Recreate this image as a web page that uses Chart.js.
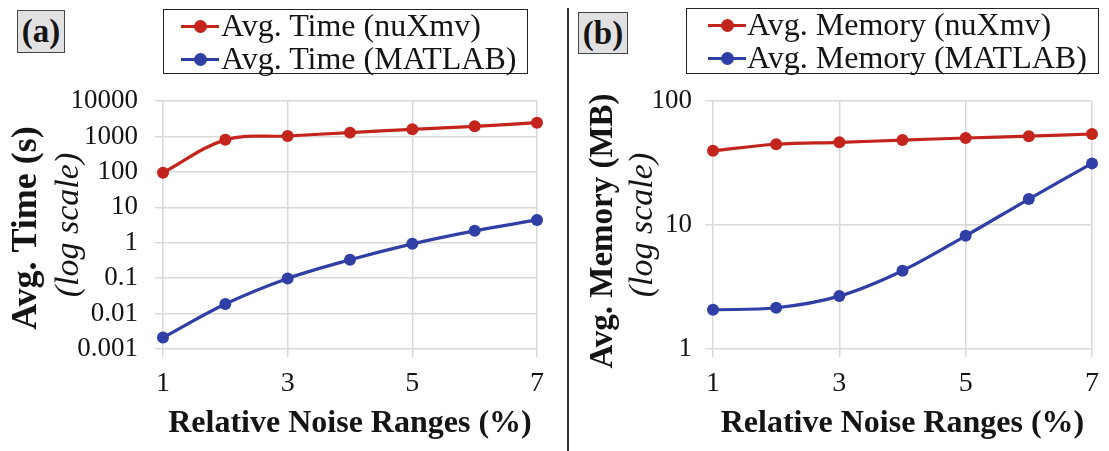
<!DOCTYPE html>
<html>
<head>
<meta charset="utf-8">
<script src="https://cdn.jsdelivr.net/npm/chart.js@4"></script>
<style>
  body { margin: 0; background: #fff; font-family: "Liberation Serif", "DejaVu Serif", serif; color: #141414; }
  #page { position: relative; width: 1109px; height: 451px; overflow: hidden; }
  .panel { position: absolute; top: 0; }
  .tag { position: absolute; background: #e1e1e1; border: 1.5px solid #444; font-weight: bold; font-size: 33px;
         text-align: center; box-sizing: border-box; line-height: 40px; }
  .legend { position: absolute; border: 1.5px solid #222; box-sizing: border-box; font-size: 32px; background: #fff; }
  .legend .row { position: relative; height: 33px; line-height: 33px; white-space: nowrap; }
  .legend .mark { position: absolute; top: 15px; height: 3px; width: 38px; }
  .legend .dot { position: absolute; left: 13px; top: -5px; width: 13px; height: 13px; border-radius: 50%; }
  .legend .txt { position: absolute; top: -1px; }
  #sep { position: absolute; left: 567px; top: 8px; width: 2px; height: 443px; background: #333; }
</style>
</head>
<body>
<div id="page">
  <div class="panel" style="left:0;width:566px;height:451px"><canvas id="chartA" width="566" height="451"></canvas></div>
  <div class="panel" style="left:570px;width:539px;height:451px"><canvas id="chartB" width="539" height="451"></canvas></div>
  <div id="sep"></div>
  <div class="tag" style="left:17px;top:10px;width:48px;height:43px">(a)</div>
  <div class="tag" style="left:578px;top:12px;width:50px;height:42px">(b)</div>
  <div class="legend" id="legendA" style="left:163px;top:9px;width:365px;height:65px"></div>
  <div class="legend" id="legendB" style="left:686px;top:8px;width:413px;height:66px"></div>
</div>
<script>
// DATA
const noiseRanges = [1, 2, 3, 4, 5, 6, 7];
const timeNuxmv = [95, 800, 1030, 1280, 1590, 1930, 2440];
const timeMatlab = [0.0021, 0.0186, 0.098, 0.33, 0.93, 2.16, 4.4];
const memNuxmv = [39.7, 44.8, 46.4, 48.4, 50.3, 52, 54.2];
const memMatlab = [2.07, 2.15, 2.67, 4.28, 8.18, 16.2, 31.4];
const timeTicks = [0.001, 0.01, 0.1, 1, 10, 100, 1000, 10000];
const memTicks = [1, 10, 100];
const xTickStep = 2;

const RED = '#c3241c';
const BLUE = '#2f3fa6';
const GRID = '#d9d9d9';
const TEXT = '#141414';
const SERIF = '"Liberation Serif", "DejaVu Serif", serif';

// y axis titles: bold line + italic line, rotated
const yTitlePlugin = {
  id: 'yTitles',
  afterDraw(chart, args, opts) {
    const { ctx, chartArea } = chart;
    const cy = (chartArea.top + chartArea.bottom) / 2;
    const lines = [
      { text: opts.title, x: opts.boldX, dy: opts.boldDy, font: 'bold ' + opts.boldSize + 'px ' + SERIF },
      { text: '(log scale)', x: opts.italicX, dy: 0, font: 'italic 34px ' + SERIF }
    ];
    lines.forEach(l => {
      ctx.save();
      ctx.translate(l.x, cy + l.dy);
      ctx.rotate(-Math.PI / 2);
      ctx.font = l.font;
      ctx.fillStyle = TEXT;
      ctx.textAlign = 'center';
      ctx.textBaseline = 'middle';
      ctx.fillText(l.text, 0, 0);
      ctx.restore();
    });
  }
};

function toPoints(values) {
  return values.map((v, i) => ({ x: noiseRanges[i], y: v }));
}

function series(label, values, color) {
  return {
    label: label,
    data: toPoints(values),
    borderColor: color,
    backgroundColor: color,
    borderWidth: 3.2,
    pointRadius: 6,
    pointBorderWidth: 0,
    pointBackgroundColor: color,
    tension: 0.35,
    clip: false
  };
}

function makeChart(id, p) {
  return new Chart(document.getElementById(id), {
    type: 'line',
    data: { datasets: p.datasets },
    plugins: [yTitlePlugin],
    options: {
      responsive: false,
      devicePixelRatio: 1,
      animation: false,
      events: [],
      layout: { padding: { top: 101, right: p.rightPad, left: 0, bottom: 0 } },
      plugins: {
        legend: { display: false },
        tooltip: { enabled: false },
        yTitles: { title: p.yTitle, boldX: p.boldX, boldDy: p.boldDy, boldSize: p.boldSize, italicX: p.italicX }
      },
      scales: {
        x: {
          type: 'linear',
          min: 1,
          max: 7,
          afterFit: s => { s.height = 102; },
          grid: { color: GRID, lineWidth: 1.5, tickLength: 8 },
          border: { display: false },
          ticks: { stepSize: xTickStep, padding: 10, color: TEXT, font: { family: SERIF, size: 28 } },
          title: {
            display: true,
            text: 'Relative Noise Ranges (%)',
            color: TEXT,
            font: { family: SERIF, size: 32, weight: 'bold' },
            padding: { top: 0, bottom: 8 }
          }
        },
        y: {
          type: 'logarithmic',
          min: p.yTicks[0],
          max: p.yTicks[p.yTicks.length - 1],
          afterFit: s => { s.width = p.axisWidth; },
          afterBuildTicks: s => { s.ticks = p.yTicks.map(v => ({ value: v })); },
          grid: { color: GRID, lineWidth: 1.5, tickLength: 8 },
          border: { display: false },
          ticks: {
            padding: p.tickPad,
            color: TEXT,
            font: { family: SERIF, size: 27 },
            callback: v => String(v)
          }
        }
      }
    }
  });
}

function buildLegend(id, datasets, markLeft, textLeft) {
  const box = document.getElementById(id);
  datasets.forEach(d => {
    const row = document.createElement('div');
    row.className = 'row';
    row.innerHTML = '<span class="mark" style="left:' + markLeft + 'px;background:' + d.borderColor + '">' +
      '<span class="dot" style="background:' + d.borderColor + '"></span></span>' +
      '<span class="txt" style="left:' + textLeft + 'px">' + d.label + '</span>';
    box.appendChild(row);
  });
}

const dsA = [series('Avg. Time (nuXmv)', timeNuxmv, RED), series('Avg. Time (MATLAB)', timeMatlab, BLUE)];
const dsB = [series('Avg. Memory (nuXmv)', memNuxmv, RED), series('Avg. Memory (MATLAB)', memMatlab, BLUE)];

makeChart('chartA', {
  datasets: dsA, yTicks: timeTicks, axisWidth: 163, tickPad: 17, rightPad: 29,
  yTitle: 'Avg. Time (s)', boldX: 27, boldDy: 3, boldSize: 36, italicX: 69
});
makeChart('chartB', {
  datasets: dsB, yTicks: memTicks, axisWidth: 143, tickPad: 13, rightPad: 16,
  yTitle: 'Avg. Memory (MB)', boldX: 33, boldDy: 6, boldSize: 33, italicX: 73
});

buildLegend('legendA', dsA, 17, 57);
buildLegend('legendB', dsB, 21, 60);
</script>
</body>
</html>
